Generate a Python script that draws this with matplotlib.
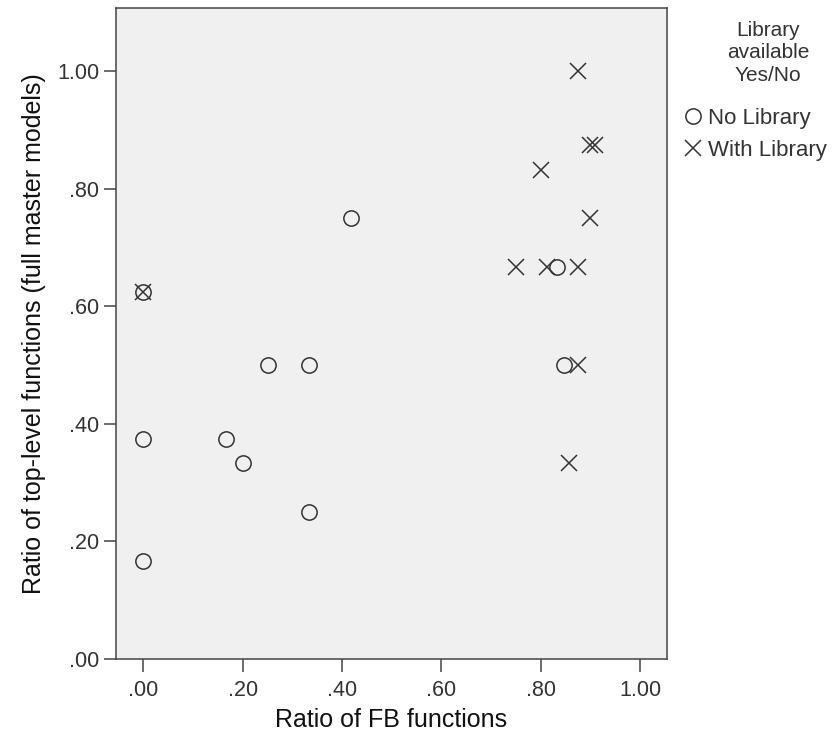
import matplotlib
matplotlib.use("Agg")
import matplotlib.pyplot as plt
from matplotlib.lines import Line2D

plt.rcParams['font.family'] = ['Liberation Sans', 'DejaVu Sans']

# No Library (circles)
no_lib_x = [0.0, 0.0, 0.0, 0.167, 0.2, 0.25, 0.333, 0.333, 0.417, 0.833, 0.846]
no_lib_y = [0.625, 0.375, 0.167, 0.375, 0.333, 0.5, 0.5, 0.25, 0.75, 0.667, 0.5]

# With Library (crosses)
lib_x = [0.0, 0.875, 0.9, 0.909, 0.8, 0.9, 0.75, 0.812, 0.875, 0.875, 0.857]
lib_y = [0.625, 1.0, 0.875, 0.875, 0.833, 0.75, 0.667, 0.667, 0.667, 0.5, 0.333]

ticks = [0.0, 0.2, 0.4, 0.6, 0.8, 1.0]
tick_labels = ['.00', '.20', '.40', '.60', '.80', '1.00']

mark_color = '#333333'
edge = '#444444'
W, H = 838, 736

fig = plt.figure(figsize=(W / 100, H / 100), dpi=100)
ax = fig.add_axes([116 / W, 1 - 659 / H, (667 - 116) / W, (659 - 8) / H])
ax.set_facecolor('#f0f0f0')

ax.plot(no_lib_x, no_lib_y, linestyle='none', marker='o', markersize=11,
        markerfacecolor='none', markeredgecolor=mark_color, markeredgewidth=1.1)
ax.plot(lib_x, lib_y, linestyle='none', marker='x', markersize=12,
        color=mark_color, markeredgewidth=1.1)

ax.set_xlim(-0.055, 1.054)
ax.set_ylim(0, 1.108)
ax.set_xticks(ticks)
ax.set_xticklabels(tick_labels)
ax.set_yticks(ticks)
ax.set_yticklabels(tick_labels)
ax.tick_params(direction='out', length=9, width=1.1, color=edge,
               labelsize=15.5, labelcolor='#333333')
ax.tick_params(axis='x', pad=6)
ax.tick_params(axis='y', pad=3)
for s in ax.spines.values():
    s.set_color(edge)
    s.set_linewidth(1.1)

ax.set_xlabel('Ratio of FB functions', fontsize=18, color='#111111', labelpad=5)
ax.set_ylabel('Ratio of top-level functions (full master models)', fontsize=18,
              color='#111111', labelpad=8)

# legend title and entries
fig.text(768 / W, 1 - 53 / H, 'Library\navailable\nYes/No', ha='center', va='center',
         fontsize=15, linespacing=1.25, color='#333333')

handles = [
    Line2D([], [], linestyle='none', marker='o', markersize=11,
           markerfacecolor='none', markeredgecolor=mark_color, markeredgewidth=1.1),
    Line2D([], [], linestyle='none', marker='x', markersize=12,
           color=mark_color, markeredgewidth=1.1),
]
leg = fig.legend(handles, ['No Library', 'With Library'], loc='upper left',
                 bbox_to_anchor=(684 / W, 1 - 108 / H), frameon=False,
                 fontsize=16, handlelength=0.8, handletextpad=0.3,
                 labelspacing=0.5, borderaxespad=0, borderpad=0)
for t in leg.get_texts():
    t.set_color('#333333')

fig.savefig('out.png', dpi=100)
